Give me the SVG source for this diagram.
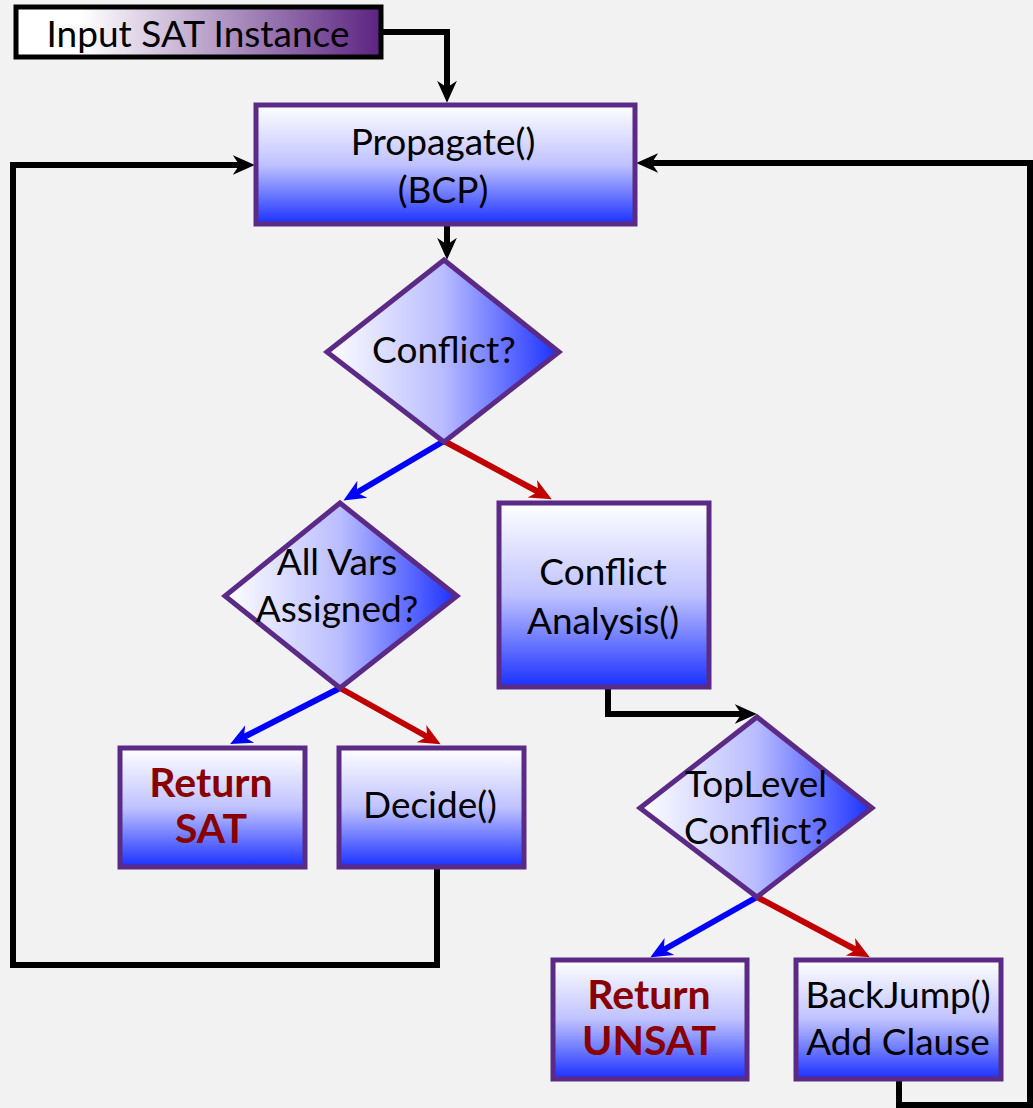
<svg xmlns="http://www.w3.org/2000/svg" width="1033" height="1108" viewBox="0 0 1033 1108">
<style>
.box{stroke:#5b2a86;stroke-width:5;fill:url(#gv)}
.dia{stroke:#5b2a86;stroke-width:5;fill:url(#gh)}
.t{font-family:Lato,"Open Sans","DejaVu Sans",sans-serif;font-size:37px;fill:#000;text-anchor:middle}
.r{font-family:Lato,"Open Sans","DejaVu Sans",sans-serif;font-size:41px;font-weight:bold;fill:#880000;text-anchor:middle}
.k{fill:none;stroke:#000;stroke-width:6}
.b{fill:none;stroke:#0000ff;stroke-width:6}
.rd{fill:none;stroke:#c00000;stroke-width:6}
</style>
<defs>
<linearGradient id="gv" x1="0" y1="0" x2="0" y2="1">
<stop offset="0" stop-color="#ffffff"/>
<stop offset="0.5" stop-color="#bfc2ff"/>
<stop offset="1" stop-color="#1a30ff"/>
</linearGradient>
<linearGradient id="gh" x1="0" y1="0" x2="1" y2="0">
<stop offset="0" stop-color="#ffffff"/>
<stop offset="0.5" stop-color="#b9bcff"/>
<stop offset="1" stop-color="#1a30ff"/>
</linearGradient>
<linearGradient id="gin" x1="0" y1="0" x2="1" y2="0">
<stop offset="0" stop-color="#ffffff"/>
<stop offset="0.18" stop-color="#ffffff"/>
<stop offset="1" stop-color="#5b2381"/>
</linearGradient>
<marker id="ak" viewBox="0 0 20 20" refX="12" refY="10" markerWidth="22" markerHeight="22" markerUnits="userSpaceOnUse" orient="auto"><path d="M0,1 L20,10 L0,19 L6,10 z" fill="#000"/></marker>
<marker id="ab" viewBox="0 0 20 20" refX="12" refY="10" markerWidth="22" markerHeight="22" markerUnits="userSpaceOnUse" orient="auto"><path d="M0,1 L20,10 L0,19 L6,10 z" fill="#0000ff"/></marker>
<marker id="ar" viewBox="0 0 20 20" refX="12" refY="10" markerWidth="22" markerHeight="22" markerUnits="userSpaceOnUse" orient="auto"><path d="M0,1 L20,10 L0,19 L6,10 z" fill="#c00000"/></marker>
</defs>
<rect width="1033" height="1108" fill="#f2f2f2"/>
<g id="connectors">
<path class="k" d="M381,32 H447 V94" marker-end="url(#ak)"/>
<path class="k" d="M447,225 V251" marker-end="url(#ak)"/>
<path class="b" d="M444,441 L351,496" marker-end="url(#ab)"/>
<path class="rd" d="M444,441 L544,495" marker-end="url(#ar)"/>
<path class="b" d="M340,688 L238,740" marker-end="url(#ab)"/>
<path class="rd" d="M340,688 L433,740" marker-end="url(#ar)"/>
<path class="k" d="M608,688 V714 H748" marker-end="url(#ak)"/>
<path class="b" d="M757,897 L658,953" marker-end="url(#ab)"/>
<path class="rd" d="M757,897 L862,953" marker-end="url(#ar)"/>
<path class="k" d="M437,868 V965 H13 V165 H246" marker-end="url(#ak)"/>
<path class="k" d="M899,1080 V1105 H1030 V163 H645" marker-end="url(#ak)"/>
</g>
<g id="input">
<rect x="16" y="7" width="365" height="50" fill="url(#gin)" stroke="#000" stroke-width="5"/>
<text class="t" x="198" y="47" font-size="41">Input SAT Instance</text>
</g>
<g id="propagate">
<rect class="box" x="256" y="105" width="379" height="119"/>
<text class="t" x="443" y="155">Propagate()</text>
<text class="t" x="443" y="203">(BCP)</text>
</g>
<g id="conflict">
<polygon class="dia" points="444,260 559,352 444,442 327,352"/>
<text class="t" x="444" y="363">Conflict?</text>
</g>
<g id="allvars">
<polygon class="dia" points="340,503 457,596 340,688 225,596"/>
<text class="t" x="337" y="575">All Vars</text>
<text class="t" x="337" y="622">Assigned?</text>
</g>
<g id="analysis">
<rect class="box" x="499" y="503" width="210" height="184"/>
<text class="t" x="603" y="585">Conflict</text>
<text class="t" x="603" y="634">Analysis()</text>
</g>
<g id="returnsat">
<rect class="box" x="120" y="748" width="185" height="119"/>
<text class="r" x="211" y="797">Return</text>
<text class="r" x="211" y="843">SAT</text>
</g>
<g id="decide">
<rect class="box" x="339" y="748" width="185" height="119"/>
<text class="t" x="430" y="818">Decide()</text>
</g>
<g id="toplevel">
<polygon class="dia" points="757,717 872,808 757,897 640,808"/>
<text class="t" x="756" y="797">TopLevel</text>
<text class="t" x="756" y="844">Conflict?</text>
</g>
<g id="returnunsat">
<rect class="box" x="553" y="960" width="194" height="119"/>
<text class="r" x="649" y="1009">Return</text>
<text class="r" x="649" y="1055">UNSAT</text>
</g>
<g id="backjump">
<rect class="box" x="796" y="960" width="205" height="119"/>
<text class="t" x="898" y="1008">BackJump()</text>
<text class="t" x="898" y="1055">Add Clause</text>
</g>
</svg>
